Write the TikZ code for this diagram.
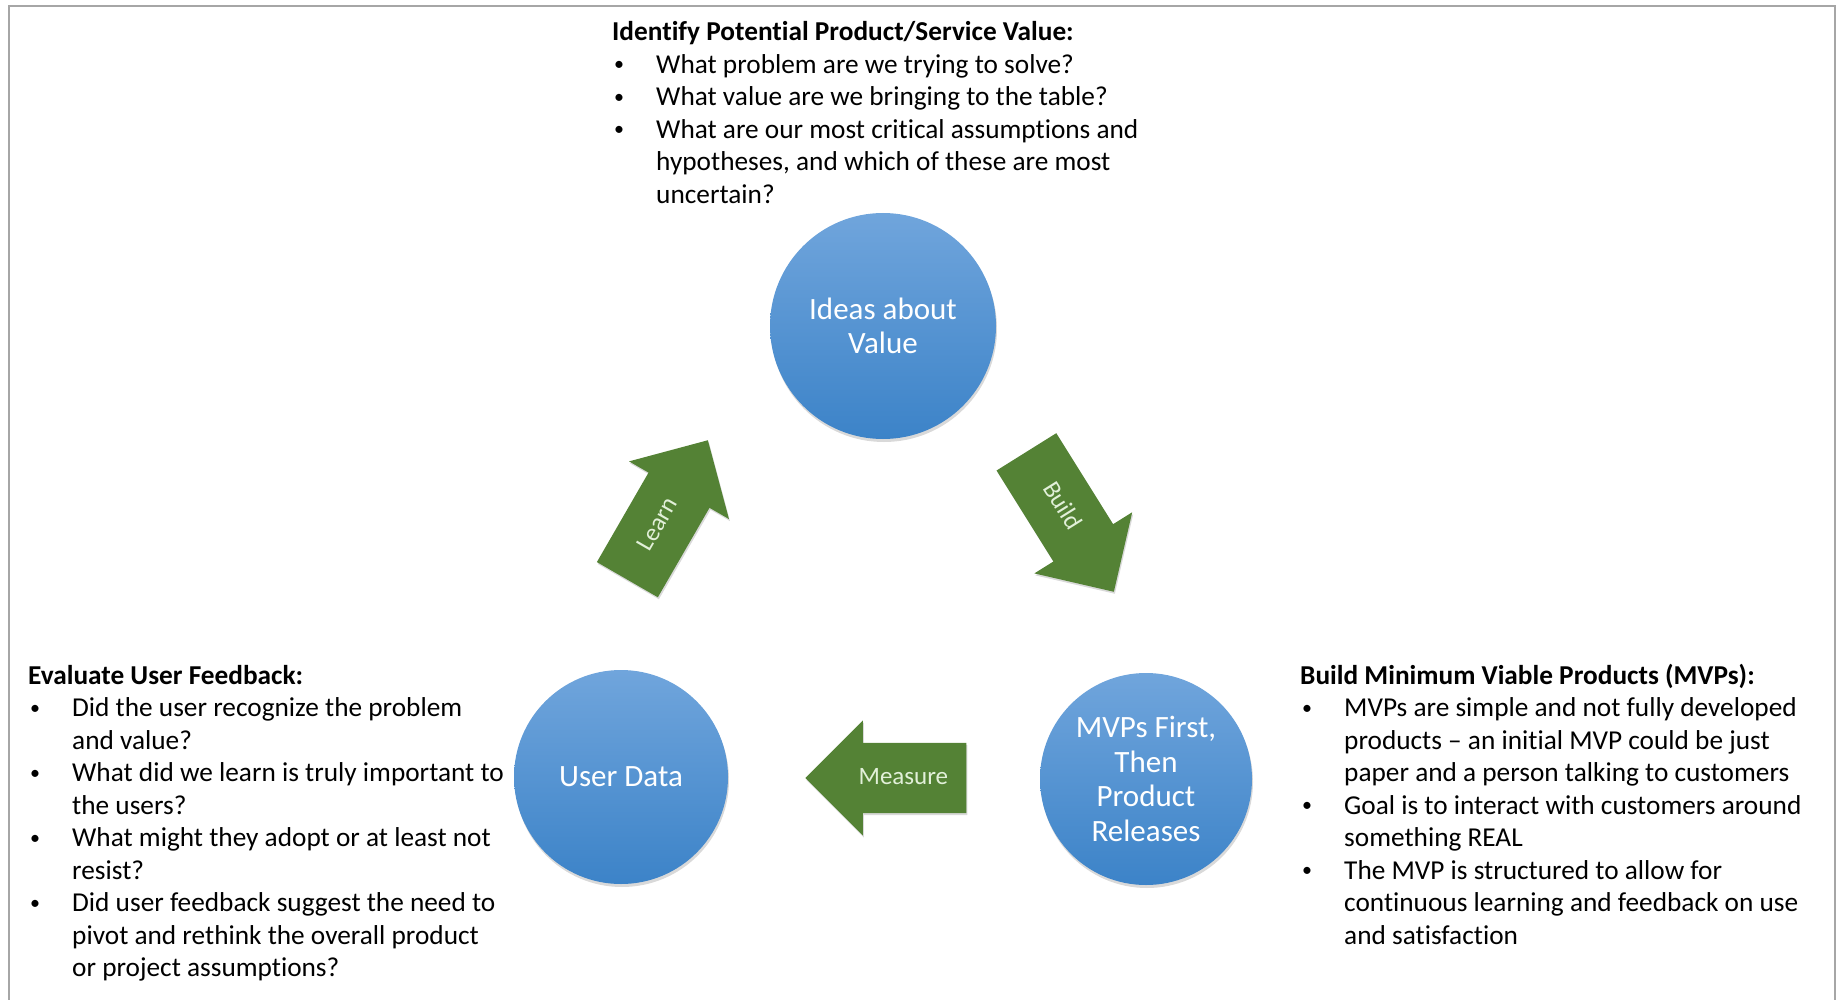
\documentclass[tikz,border=0pt]{standalone}
\usepackage{fontspec}
\setmainfont{Carlito}[Ligatures=NoCommon]
\usetikzlibrary{shapes.arrows, shadows, positioning}

\definecolor{circtop}{RGB}{112,165,220}
\definecolor{circbot}{RGB}{60,131,200}
\definecolor{loopgreen}{RGB}{84,130,53}
\definecolor{looptext}{RGB}{226,240,217}
\definecolor{framegray}{RGB}{166,166,166}

\newcommand{\notefont}{\fontsize{27.3pt}{32.5pt}\selectfont}
\newcommand{\notebullet}{\hspace*{2pt}\raisebox{2.5pt}{\fontsize{20pt}{20pt}\selectfont\textbullet}}

\tikzset{
  stagecircle/.style={circle, inner sep=0pt, top color=circtop, bottom color=circbot,
    text=white, align=center, font=\fontsize{31pt}{34.5pt}\selectfont,
    drop shadow={shadow xshift=1pt, shadow yshift=-3pt, opacity=.3}},
  looparrow/.style={single arrow, fill=loopgreen, text=looptext,
    font=\fontsize{25pt}{30pt}\selectfont, text height=17pt, text depth=5pt,
    inner xsep=2pt, inner ysep=24pt, single arrow head extend=22.5pt,
    minimum height=161pt, anchor=tip,
    drop shadow={shadow xshift=1pt, shadow yshift=-2pt, opacity=.3}},
  notes/.style={inner sep=0pt, anchor=base west, font=\notefont}
}

\begin{document}
\begin{tikzpicture}[x=1pt, y=-1pt]
  \useasboundingbox (0,0) rectangle (1839,1000);
  \draw[framegray, line width=2pt] (9,1000) -- (9,6) -- (1835,6) -- (1835,1000);

  % the three stages
  \node[stagecircle, minimum size=226pt] (ideas) at (883,326) {Ideas about\\Value};
  \node[stagecircle, minimum size=214pt] (userdata) at (621,777) {User Data};
  \node[stagecircle, minimum size=212pt] (mvps) at (1146,779) {MVPs First,\\Then\\Product\\Releases};

  % the arrows between them
  \node[looparrow, rotate=60] (learn) at (708,440) {Learn};
  \node[looparrow, rotate=-58, minimum height=165pt] (build) at (1114,592) {Build};
  \node[looparrow, shape border rotate=180] (measure) at (805,778) {Measure};

  % notes
  \node[notes] (valuenotes) at (612,41) {%
    \begin{tabular}[t]{@{}p{44pt}@{}l@{}}
      \multicolumn{2}{@{}l@{}}{\textbf{Identify Potential Product/Service Value:}}\\
      \notebullet & What problem are we trying to solve?\\
      \notebullet & What value are we bringing to the table?\\
      \notebullet & What are our most critical assumptions and\\
                  & hypotheses, and which of these are most\\
                  & uncertain?
    \end{tabular}};

  \node[notes] (feedbacknotes) at (28,684) {%
    \begin{tabular}[t]{@{}p{44pt}@{}l@{}}
      \multicolumn{2}{@{}l@{}}{\textbf{Evaluate User Feedback:}}\\
      \notebullet & Did the user recognize the problem\\
                  & and value?\\
      \notebullet & What did we learn is truly important to\\
                  & the users?\\
      \notebullet & What might they adopt or at least not\\
                  & resist?\\
      \notebullet & Did user feedback suggest the need to\\
                  & pivot and rethink the overall product\\
                  & or project assumptions?
    \end{tabular}};

  \node[notes] (mvpnotes) at (1300,684) {%
    \begin{tabular}[t]{@{}p{44pt}@{}l@{}}
      \multicolumn{2}{@{}l@{}}{\textbf{Build Minimum Viable Products (MVPs):}}\\
      \notebullet & MVPs are simple and not fully developed\\
                  & products -- an initial MVP could be just\\
                  & paper and a person talking to customers\\
      \notebullet & Goal is to interact with customers around\\
                  & something REAL\\
      \notebullet & The MVP is structured to allow for\\
                  & continuous learning and feedback on use\\
                  & and satisfaction
    \end{tabular}};
\end{tikzpicture}
\end{document}
